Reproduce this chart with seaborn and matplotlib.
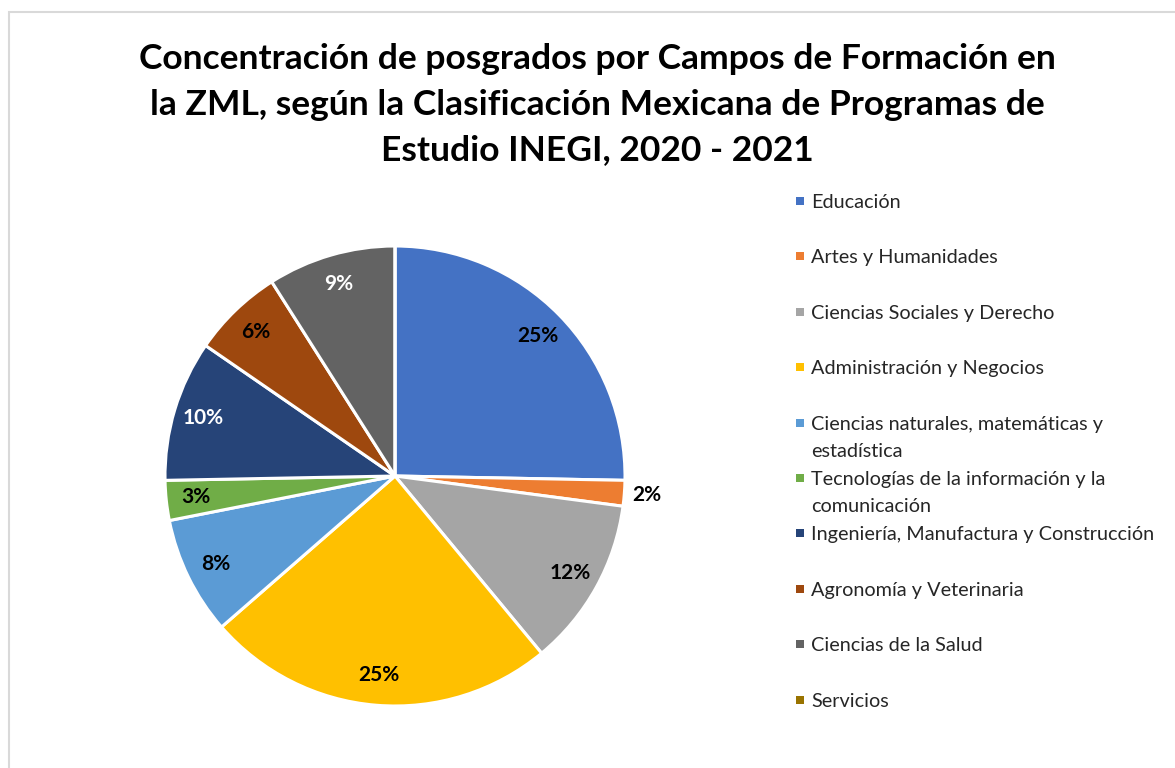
import numpy as np
import matplotlib
matplotlib.use("Agg")
import matplotlib.pyplot as plt
from matplotlib.patches import Rectangle
import seaborn as sns

categories = [
    "Educación",
    "Artes y Humanidades",
    "Ciencias Sociales y Derecho",
    "Administración y Negocios",
    "Ciencias naturales, matemáticas y\nestadística",
    "Tecnologías de la información y la\ncomunicación",
    "Ingeniería, Manufactura y Construcción",
    "Agronomía y Veterinaria",
    "Ciencias de la Salud",
    "Servicios",
]
values = [25.3, 1.8, 11.9, 24.6, 8.3, 2.8, 9.9, 6.4, 9.0, 0.0]
colors = ["#4472C4", "#ED7D31", "#A5A5A5", "#FFC000", "#5B9BD5",
          "#70AD47", "#264478", "#9E480E", "#636363", "#997300"]
label_colors = ["black", "black", "black", "black", "black",
                "black", "white", "black", "white", "black"]
title = ("Concentración de posgrados por Campos de Formación en\n"
         "la ZML, según la Clasificación Mexicana de Programas de\n"
         "Estudio INEGI, 2020 - 2021")

sns.set_theme(style="white")
plt.rcParams['font.family'] = ['Lato', 'DejaVu Sans']
palette = sns.color_palette(colors)

W, H = 1175, 768
fig = plt.figure(figsize=(W / 100, H / 100), dpi=100)
fig.patch.set_facecolor("white")

# outer frame (left and top edges visible)
fig.patches.append(Rectangle((9 / W, -0.1), 1.2, 1 - 12 / H + 0.1,
                             transform=fig.transFigure, fill=False,
                             edgecolor="#D9D9D9", linewidth=1.5))

cx, cy, R = 395, 476, 230
half = 1.2 * R
ax = fig.add_axes([(cx - half) / W, (H - cy - half) / H, 2 * half / W, 2 * half / H])

total = sum(values)

def fmt(p):
    return "" if p < 0.5 else f"{p:.0f}%"

wedges, texts, autotexts = ax.pie(
    values, colors=palette, startangle=90, counterclock=False,
    autopct=fmt, pctdistance=0.87,
    wedgeprops=dict(edgecolor="white", linewidth=2.2),
    textprops=dict(fontsize=15, fontweight="bold"))
ax.set_xlim(-1.2, 1.2)
ax.set_ylim(-1.2, 1.2)
ax.set_aspect("equal")

for w, t, c, v in zip(wedges, autotexts, label_colors, values):
    t.set_color(c)
    if 0 < v / total < 0.025:
        mid = np.deg2rad((w.theta1 + w.theta2) / 2)
        t.set_position((1.1 * np.cos(mid), 1.1 * np.sin(mid)))

# title
fig.text(597 / W, 1 - 43 / H, title, ha="center", va="top",
         fontsize=25.5, fontweight="bold", color="black", linespacing=1.52,
         multialignment="center")

# legend (uniform slots as in the reference)
y0 = 201
dy = 55.4
for i, (lab, col) in enumerate(zip(categories, palette)):
    y = y0 + i * dy
    fig.patches.append(Rectangle((796 / W, 1 - (y + 4) / H), 8 / W, 8 / H,
                                 transform=fig.transFigure, facecolor=col,
                                 edgecolor="none"))
    fig.text(811 / W, 1 - (y - 7) / H, lab, ha="left", va="top",
             fontsize=14.3, color="#262626", linespacing=1.74)

fig.savefig("out.png", dpi=100, facecolor="white")
